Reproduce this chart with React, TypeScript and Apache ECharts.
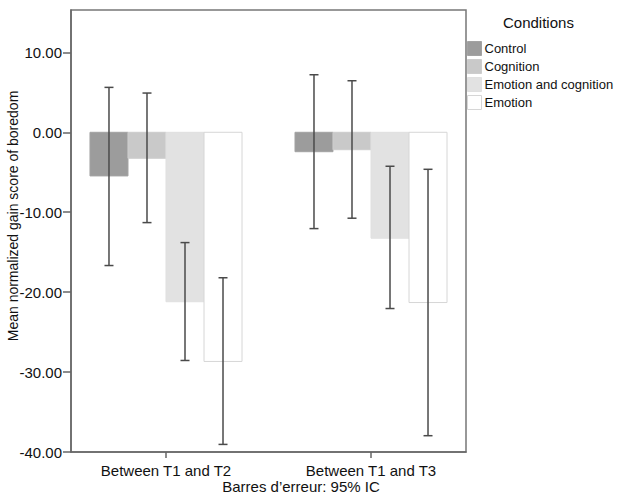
import React, { useEffect, useRef } from "react";
import * as echarts from "echarts";

// Group labels along the x axis
const categories = ["Between T1 and T2", "Between T1 and T3"];

// Experimental conditions (legend order)
const conditions = ["Control", "Cognition", "Emotion and cognition", "Emotion"];

// Mean normalized gain score per condition, one value per category
const means: number[][] = [
  [-5.46, -2.43],
  [-3.25, -2.18],
  [-21.2, -13.25],
  [-28.67, -21.3],
];

// 95% confidence interval bounds per condition, one value per category
const ciLower: number[][] = [
  [-16.67, -12.05],
  [-11.3, -10.75],
  [-28.55, -22.05],
  [-39.05, -37.96],
];
const ciUpper: number[][] = [
  [5.62, 7.2],
  [4.91, 6.45],
  [-13.8, -4.25],
  [-18.2, -4.63],
];

// Y axis tick values
const yTicks = [-40, -30, -20, -10, 0, 10];

const fills = ["#9c9c9c", "#c9c9c9", "#e2e2e2", "#ffffff"];
const strokes = ["#a3a3a3", "#cdcdcd", "#e0e0e0", "#d6d6d6"];

const FONT = "'Liberation Sans', Arial, sans-serif";
const BAR_FRACTION = 0.1854; // width of one bar in x-axis units
const CAP_HALF = 4.5;

export default function App() {
  const ref = useRef<HTMLDivElement>(null);

  useEffect(() => {
    document.body.style.margin = "0";
    const chart = echarts.init(ref.current!, null, { renderer: "svg" });

    const series = conditions.map((name, j) => ({
      name,
      type: "custom" as const,
      itemStyle: { color: fills[j], borderColor: strokes[j] },
      data: categories.map((_, i) => [i, means[j][i], ciLower[j][i], ciUpper[j][i]]),
      encode: { x: 0, y: [1, 2, 3] },
      renderItem: (params: any, api: any) => {
        const cx = api.value(0);
        const mean = api.value(1);
        const lo = api.value(2);
        const hi = api.value(3);
        const unitPx = api.size([1, 0])[0];
        const barW = unitPx * BAR_FRACTION;
        const p0 = api.coord([cx, 0]);
        const pm = api.coord([cx, mean]);
        const pLo = api.coord([cx, lo]);
        const pHi = api.coord([cx, hi]);
        const xc = p0[0] + (j - 1.5) * barW;
        const errStyle = { stroke: "#4a4a4a", lineWidth: 1.5 };
        return {
          type: "group",
          children: [
            {
              type: "rect",
              shape: {
                x: xc - barW / 2,
                y: Math.min(p0[1], pm[1]),
                width: barW,
                height: Math.abs(pm[1] - p0[1]),
              },
              style: { fill: fills[j], stroke: strokes[j], lineWidth: 1 },
            },
            {
              type: "line",
              shape: { x1: xc, y1: pLo[1], x2: xc, y2: pHi[1] },
              style: errStyle,
            },
            {
              type: "line",
              shape: { x1: xc - CAP_HALF, y1: pLo[1], x2: xc + CAP_HALF, y2: pLo[1] },
              style: errStyle,
            },
            {
              type: "line",
              shape: { x1: xc - CAP_HALF, y1: pHi[1], x2: xc + CAP_HALF, y2: pHi[1] },
              style: errStyle,
            },
          ],
        };
      },
    }));

    chart.setOption({
      animation: false,
      textStyle: { fontFamily: FONT },
      grid: {
        left: 71,
        top: 10,
        right: 155,
        bottom: 44,
        show: true,
        borderColor: "#777",
        borderWidth: 1.5,
        backgroundColor: "transparent",
      },
      xAxis: {
        type: "value",
        min: -0.4634,
        max: 1.4634,
        splitLine: { show: false },
        axisLine: { show: true, onZero: false, lineStyle: { color: "#666", width: 1.5 } },
        axisTick: { show: true, length: 6, customValues: [0, 1], lineStyle: { color: "#666", width: 1.5 } },
        axisLabel: {
          customValues: [0, 1],
          formatter: (v: number) => categories[Math.round(v)] ?? "",
          margin: 11,
          fontSize: 15,
          color: "#111",
          fontFamily: FONT,
        },
      },
      yAxis: {
        type: "value",
        min: -40,
        max: 15.3,
        interval: 10,
        splitLine: { show: false },
        axisLine: { show: true, onZero: false, lineStyle: { color: "#666", width: 1.5 } },
        axisTick: { show: true, length: 8, customValues: yTicks, lineStyle: { color: "#666", width: 1.5 } },
        axisLabel: {
          customValues: yTicks,
          formatter: (v: number) => v.toFixed(2),
          margin: 9,
          fontSize: 15,
          color: "#111",
          fontFamily: FONT,
        },
      },
      legend: {
        orient: "vertical",
        left: 467,
        top: 41,
        padding: 0,
        itemWidth: 14,
        itemHeight: 14,
        itemGap: 3,
        icon: "rect",
        textStyle: { fontSize: 13, color: "#111", fontFamily: FONT, padding: [0, 0, 0, -2] },
        data: conditions.map((name, j) => ({
          name,
          itemStyle: { color: fills[j], borderColor: strokes[j], borderWidth: 1 },
        })),
      },
      graphic: [
        {
          type: "text",
          left: 503,
          top: 15,
          style: { text: "Conditions", fontSize: 15, fill: "#111", fontFamily: FONT },
        },
        {
          type: "text",
          x: 13,
          y: 216,
          rotation: Math.PI / 2,
          style: {
            text: "Mean normalized gain score of boredom",
            fontSize: 14,
            fill: "#111",
            fontFamily: FONT,
            align: "center",
            verticalAlign: "middle",
          },
        },
        {
          type: "text",
          x: 301,
          y: 479,
          style: {
            text: "Barres d\u2019erreur: 95% IC",
            fontSize: 15,
            fill: "#111",
            fontFamily: FONT,
            align: "center",
            verticalAlign: "top",
          },
        },
      ],
      series,
    });

    return () => chart.dispose();
  }, []);

  return <div ref={ref} style={{ width: 621, height: 496 }} />;
}
